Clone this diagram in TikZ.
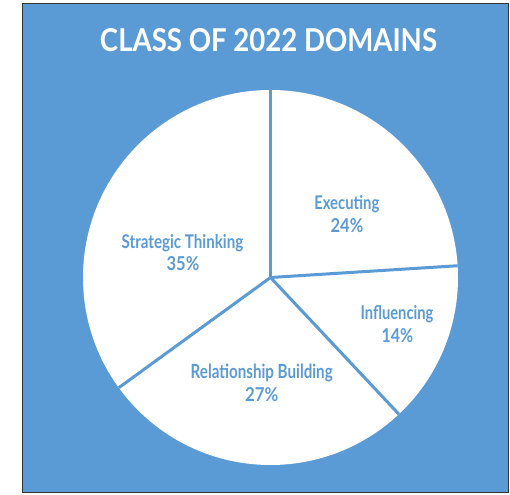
\documentclass[tikz,border=0pt]{standalone}
\usepackage{fontspec}
\setmainfont{Lato}
\usepackage{graphicx}
\definecolor{pieblue}{HTML}{5B9BD5}
\definecolor{framegray}{HTML}{333333}
\newcommand\fitbox[3]{\resizebox{#1}{#2}{#3}}
\begin{document}
\begin{tikzpicture}[x=1pt,y=1pt,
  lbl/.style={inner sep=0pt, anchor=base, text=pieblue, font=\bfseries},
  spoke/.style={draw=pieblue, line width=3pt}]
\useasboundingbox (0,0) rectangle (510,494);
\fill[white] (0,0) rectangle (510,494);
\draw[fill=pieblue, draw=framegray, line width=1.5pt] (22.5,1.5) rectangle (508.5,490.5);
\node[inner sep=0pt, anchor=base, text=white, font=\bfseries] (title) at (268.5,442.3)
  {\fitbox{337pt}{23pt}{CLASS OF 2022 DOMAINS}};
\coordinate (c) at (270.5,216.5);
\fill[white] (c) circle (187.5);
\foreach \a in {90,3.6,-46.8,-144} \draw[spoke] (c) -- ++(\a:187.5);
\node[lbl] (st1) at (182.5,245.7) {\fitbox{121.6pt}{14pt}{Strategic Thinking}};
\node[lbl] (st2) at (183,223.3) {\fitbox{32.7pt}{14pt}{35\%}};
\node[lbl] (ex1) at (346.8,284.7) {\fitbox{65pt}{14pt}{Executing}};
\node[lbl] (ex2) at (347,261.3) {\fitbox{32.7pt}{14pt}{24\%}};
\node[lbl] (in1) at (397,174) {\fitbox{72.7pt}{14pt}{Influencing}};
\node[lbl] (in2) at (397.5,151) {\fitbox{31.7pt}{14pt}{14\%}};
\node[lbl] (rb1) at (261.7,115.7) {\fitbox{142pt}{14.5pt}{Relationship Building}};
\node[lbl] (rb2) at (261.7,92.3) {\fitbox{33.3pt}{14pt}{27\%}};
\end{tikzpicture}
\end{document}
